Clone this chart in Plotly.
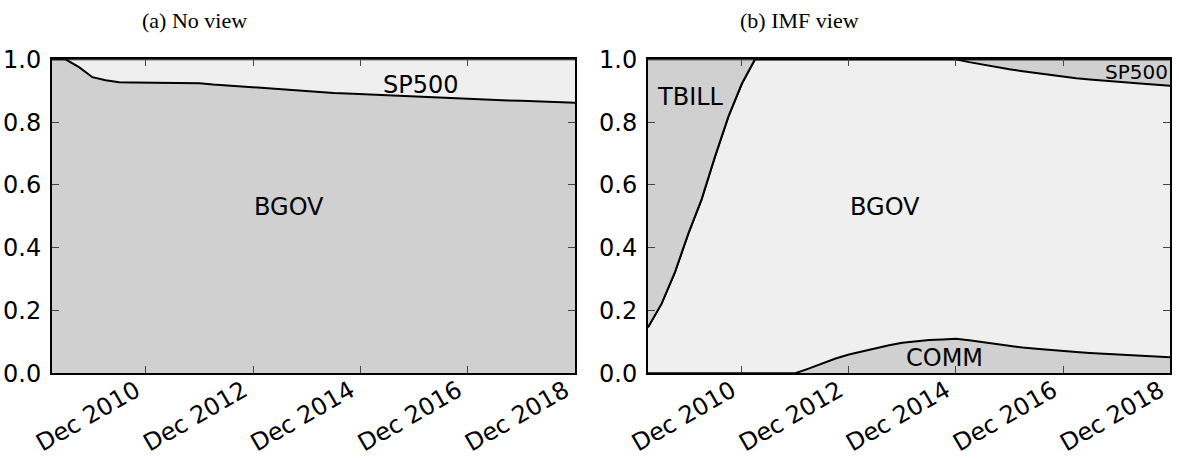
import plotly.graph_objects as go

# ---------------- data ----------------
dates = [
    "2009-03-01", "2009-06-01", "2009-09-01", "2009-12-01",
    "2010-03-01", "2010-06-01", "2010-09-01", "2010-12-01",
    "2011-03-01", "2011-06-01", "2011-09-01", "2011-12-01",
    "2012-03-01", "2012-06-01", "2012-09-01", "2012-12-01",
    "2013-03-01", "2013-06-01", "2013-09-01", "2013-12-01",
    "2014-03-01", "2014-06-01", "2014-09-01", "2014-12-01",
    "2015-03-01", "2015-06-01", "2015-09-01", "2015-12-01",
    "2016-03-01", "2016-06-01", "2016-09-01", "2016-12-01",
    "2017-03-01", "2017-06-01", "2017-09-01", "2017-12-01",
    "2018-03-01", "2018-06-01", "2018-09-01", "2018-12-01",
]

# (a) No view
noview_bgov = [1.0, 1.0, 0.975, 0.943, 0.933, 0.927, 0.926, 0.926,
               0.926, 0.926, 0.925, 0.924, 0.920, 0.917, 0.914, 0.911,
               0.906, 0.903, 0.900, 0.898, 0.895, 0.893, 0.891, 0.889,
               0.887, 0.885, 0.883, 0.881, 0.879, 0.877, 0.876, 0.874,
               0.872, 0.871, 0.869, 0.868, 0.866, 0.865, 0.863, 0.862]
noview_sp500 = [0.0, 0.0, 0.025, 0.057, 0.067, 0.073, 0.074, 0.074,
                0.074, 0.074, 0.075, 0.076, 0.080, 0.083, 0.086, 0.089,
                0.094, 0.097, 0.100, 0.102, 0.105, 0.107, 0.109, 0.111,
                0.113, 0.115, 0.117, 0.119, 0.121, 0.123, 0.124, 0.126,
                0.128, 0.129, 0.131, 0.132, 0.134, 0.135, 0.137, 0.138]

# (b) IMF view
imf_comm = [0.0, 0.0, 0.0, 0.0, 0.0, 0.0, 0.0, 0.0,
            0.0, 0.0, 0.0, 0.0, 0.015, 0.032, 0.047, 0.060,
            0.070, 0.080, 0.089, 0.097, 0.102, 0.106, 0.108, 0.110,
            0.105, 0.099, 0.093, 0.087, 0.082, 0.078, 0.074, 0.071,
            0.068, 0.065, 0.063, 0.060, 0.058, 0.055, 0.053, 0.051]
imf_bgov = [0.147, 0.221, 0.322, 0.445, 0.553, 0.690, 0.818, 0.922,
            1.0, 1.0, 1.0, 1.0, 0.985, 0.968, 0.953, 0.940,
            0.930, 0.920, 0.911, 0.903, 0.898, 0.894, 0.892, 0.890,
            0.886, 0.884, 0.882, 0.881, 0.880, 0.878, 0.876, 0.874,
            0.872, 0.871, 0.869, 0.869, 0.867, 0.867, 0.866, 0.865]
imf_sp500 = [0.0, 0.0, 0.0, 0.0, 0.0, 0.0, 0.0, 0.0,
             0.0, 0.0, 0.0, 0.0, 0.0, 0.0, 0.0, 0.0,
             0.0, 0.0, 0.0, 0.0, 0.0, 0.0, 0.0, 0.0,
             0.009, 0.017, 0.025, 0.032, 0.038, 0.044, 0.050, 0.055,
             0.060, 0.064, 0.068, 0.071, 0.075, 0.078, 0.081, 0.084]
imf_tbill = [0.853, 0.779, 0.678, 0.555, 0.447, 0.310, 0.182, 0.078,
             0.0, 0.0, 0.0, 0.0, 0.0, 0.0, 0.0, 0.0,
             0.0, 0.0, 0.0, 0.0, 0.0, 0.0, 0.0, 0.0,
             0.0, 0.0, 0.0, 0.0, 0.0, 0.0, 0.0, 0.0,
             0.0, 0.0, 0.0, 0.0, 0.0, 0.0, 0.0, 0.0]

tick_dates = ["2010-12-01", "2012-12-01", "2014-12-01", "2016-12-01", "2018-12-01"]
tick_labels = ["Dec 2010", "Dec 2012", "Dec 2014", "Dec 2016", "Dec 2018"]
y_ticks = [0.0, 0.2, 0.4, 0.6, 0.8, 1.0]
y_labels = ["0.0", "0.2", "0.4", "0.6", "0.8", "1.0"]

DARK = "#d0d0d0"
LIGHT = "#efefef"

fig = go.Figure()


def add_area(x, y, color, xa, ya, group):
    fig.add_trace(go.Scatter(
        x=x, y=y, mode="lines", stackgroup=group,
        line=dict(color="black", width=2, shape="linear"),
        fillcolor=color, xaxis=xa, yaxis=ya, showlegend=False,
        hoverinfo="skip"))


add_area(dates, noview_bgov, DARK, "x", "y", "a")
add_area(dates, noview_sp500, LIGHT, "x", "y", "a")

add_area(dates, imf_comm, DARK, "x2", "y2", "b")
add_area(dates, imf_bgov, LIGHT, "x2", "y2", "b")
add_area(dates, imf_sp500, DARK, "x2", "y2", "b")
add_area(dates, imf_tbill, DARK, "x2", "y2", "b")

W, H = 1179, 459
tickfont = dict(family="DejaVu Sans", size=24, color="black")

xcommon = dict(
    type="date", range=["2009-03-01", "2018-12-01"],
    tickmode="array", tickvals=tick_dates, ticktext=tick_labels,
    tickangle=-30, tickfont=tickfont, ticklabelshift=-10,
    ticklabelstandoff=-8,
    showline=True, linecolor="black", linewidth=2, mirror="allticks",
    ticks="inside", ticklen=7, tickwidth=1, tickcolor="#444",
    showgrid=False, zeroline=False, automargin=False,
)
ycommon = dict(
    range=[0, 1], tickmode="array", tickvals=y_ticks, ticktext=y_labels,
    tickfont=tickfont, ticklabelstandoff=4,
    showline=True, linecolor="black", linewidth=2, mirror="allticks",
    ticks="inside", ticklen=7, tickwidth=1, tickcolor="#444",
    showgrid=False, zeroline=False, automargin=False,
)

ydom = [1 - 373.3 / H, 1 - 59.3 / H]

fig.update_layout(
    width=W, height=H,
    margin=dict(l=0, r=0, t=0, b=0, autoexpand=False),
    paper_bgcolor="white", plot_bgcolor="white",
    showlegend=False,
    xaxis=dict(domain=[52 / W, 575 / W], anchor="y", **xcommon),
    yaxis=dict(domain=ydom, anchor="x", **ycommon),
    xaxis2=dict(domain=[648 / W, 1170 / W], anchor="y2", **xcommon),
    yaxis2=dict(domain=ydom, anchor="x2", **ycommon),
)

labfont = dict(family="DejaVu Sans", size=24, color="black")
annots = [
    dict(x="2016-01-15", y=0.917, xref="x", yref="y", text="SP500", font=labfont),
    dict(x="2013-08-01", y=0.529, xref="x", yref="y", text="BGOV", font=labfont),
    dict(x="2009-12-15", y=0.88, xref="x2", yref="y2", text="TBILL", font=labfont),
    dict(x="2013-08-01", y=0.529, xref="x2", yref="y2", text="BGOV", font=labfont),
    dict(x="2014-09-15", y=0.05, xref="x2", yref="y2", text="COMM", font=labfont),
    dict(x="2018-12-01", y=0.96, xref="x2", yref="y2", text="SP500", xanchor="right",
         font=dict(family="DejaVu Sans", size=20, color="black")),
]
for a in annots:
    a.setdefault("xanchor", "center")
    a["showarrow"] = False
    a["yanchor"] = "middle"
    fig.add_annotation(**a)

titlefont = dict(family="Liberation Serif", size=22, color="black")
fig.add_annotation(x=140 / W, y=1 - 20 / H, xref="paper", yref="paper",
                   text="(a) No view", showarrow=False, xanchor="left",
                   yanchor="middle", font=titlefont)
fig.add_annotation(x=738 / W, y=1 - 20 / H, xref="paper", yref="paper",
                   text="(b) IMF view", showarrow=False, xanchor="left",
                   yanchor="middle", font=titlefont)

fig.write_html("out.html")
